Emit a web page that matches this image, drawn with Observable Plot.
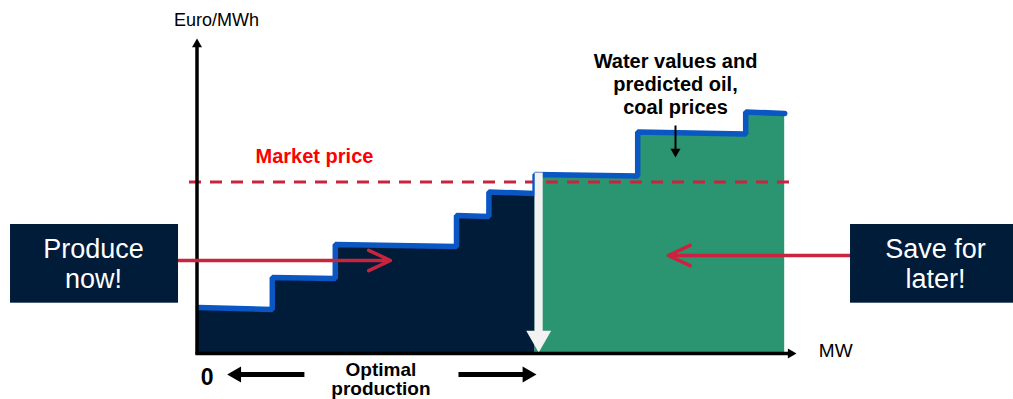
<!DOCTYPE html>
<html>
<head>
<meta charset="utf-8">
<script src="https://cdn.jsdelivr.net/npm/d3@7"></script>
<script src="https://cdn.jsdelivr.net/npm/@observablehq/plot@0.6"></script>
<style>
  html, body { margin: 0; padding: 0; background: #ffffff; }
  #chart { width: 1013px; height: 399px; overflow: hidden; }
</style>
</head>
<body>
<div id="chart"></div>
<script>
// ---------- data (MW on x, Euro/MWh on y; conceptual units) ----------
const stepStartMW    = [0, 12.3, 22.8, 43.0, 48.4, 56.1, 73.2, 91.2];
const stepEndMW      = [12.3, 22.8, 43.0, 48.4, 56.1, 73.2, 91.2, 97.7];
const stepPriceStart = [4.5, 7.5, 10.8, 13.7, 16.05, 17.8, 22.05, 24.05];
const stepPriceEnd   = [4.3, 7.4, 10.6, 13.6, 15.9, 17.65, 21.85, 23.9];
const stepGroup      = ["now", "now", "now", "now", "now", "later", "later", "later"];
const groups         = ["now", "later"];

const marketPrice = 17.05;
const marketSpan  = [-1.5, 99.2];
const optimalMW   = 56.7;      // white arrow: optimal production point
const optimalTop  = 18.0;

const axisEndMW    = 99.67;
const axisEndPrice = 31.4;

const labelTexts = ["Euro/MWh", "MW", "Market price", "Water values and\npredicted oil,\ncoal prices", "Optimal\nproduction", "0"];
const labelX     = [3.0, 106.2, 19.33, 79.5, 30.4, 1.42];
const labelY     = [33.25, 0.14, 19.6, 26.84, -2.74, -2.55];

const boxTexts = ["Produce\nnow!", "Save for\nlater!"];
const boxX1    = [-31.33, 108.67];
const boxX2    = [-3.33, 135.9];
const boxY1    = [4.93, 4.93];
const boxY2    = [12.8, 12.8];
const boxTextX = [-17.5, 122.83];
const boxTextY = [8.9, 8.95];

const redArrowFrom  = [[-3.33, 9.2], [108.67, 9.7]];
const redArrowTo    = [[32.0, 9.2], [78.3, 9.7]];

const optimalArrowFrom = [[17.65, -2.2], [43.33, -2.2]];
const optimalArrowTo   = [[4.78, -2.2], [56.33, -2.2]];

const noteArrowX = 79.5, noteArrowFrom = 22.7, noteArrowTo = 19.5;

// ---------- colours ----------
const NAVY = "#011c39", GREEN = "#2a9570", BLUE = "#0a56c2", CRIMSON = "#c8243e";
const FONT = "Liberation Sans, Arial, Helvetica, sans-serif";

// ---------- derived tables ----------
const steps = stepStartMW.map((x0, i) => ({x0, x1: stepEndMW[i], p0: stepPriceStart[i], p1: stepPriceEnd[i], g: stepGroup[i]}));
const curvePts = steps.flatMap((s) => [{x: s.x0, y: s.p0, g: s.g}, {x: s.x1, y: s.p1, g: s.g}]);

const W = 1013, H = 399;
const xDomain = [-33, 135.8333], yDomain = [-4.7, 35.2];
const KX = W / (xDomain[1] - xDomain[0]);
const KY = H / (yDomain[1] - yDomain[0]);

// filled-head arrow made of a link shaft and a rotated triangle symbol
function headArrow(rows, {color, width, side}) {
  const area = Math.sqrt(3) / 4 * side * side;
  const h = side * Math.sqrt(3) / 2;
  const r = Math.sqrt(area / Math.PI);
  const t = rows.map(([a, b]) => {
    const [x1, y1] = a, [x2, y2] = b;
    const dxp = (x2 - x1) * KX, dyp = -(y2 - y1) * KY;
    const len = Math.hypot(dxp, dyp), ux = dxp / len, uy = dyp / len;
    return {
      x1, y1,
      sx: x2 - ux * (h * 0.8) / KX, sy: y2 + uy * (h * 0.8) / KY,
      cx: x2 - ux * (2 / 3 * h) / KX, cy: y2 + uy * (2 / 3 * h) / KY,
      rot: Math.atan2(uy, ux) * 180 / Math.PI + 90
    };
  });
  return [
    Plot.link(t, {x1: "x1", y1: "y1", x2: "sx", y2: "sy", stroke: color, strokeWidth: width}),
    Plot.dot(t, {x: "cx", y: "cy", symbol: "triangle", r, fill: color, stroke: "none", rotate: "rot"})
  ];
}

const labels = labelTexts.map((text, i) => ({text, x: labelX[i], y: labelY[i]}));
const boxes = boxTexts.map((text, i) => ({text, x1: boxX1[i], x2: boxX2[i], y1: boxY1[i], y2: boxY2[i], tx: boxTextX[i], ty: boxTextY[i]}));
const redArrows = redArrowFrom.map((f, i) => ({x1: f[0], y1: f[1], x2: redArrowTo[i][0], y2: redArrowTo[i][1]}));

const chart = Plot.plot({
  width: W, height: H,
  marginTop: 0, marginRight: 0, marginBottom: 0, marginLeft: 0,
  x: {domain: xDomain, axis: null},
  y: {domain: yDomain, axis: null},
  color: {domain: groups, range: [NAVY, GREEN]},
  style: {background: "#ffffff", overflow: "visible", fontFamily: FONT},
  marks: [
    // supply curve fill (no stacking: explicit baseline)
    Plot.area(curvePts, {x1: "x", y1: 0, y2: "y", fill: "g", z: "g", curve: "linear"}),
    // market price
    Plot.ruleY([marketPrice], {x1: marketSpan[0], x2: marketSpan[1], stroke: CRIMSON, strokeWidth: 3, strokeDasharray: "12,9"}),
    // stepped blue curve
    Plot.line(curvePts, {x: "x", y: "y", stroke: BLUE, strokeWidth: 5.5, strokeLinejoin: "miter", curve: "linear"}),
    // optimal production arrow (white)
    ...headArrow([[[optimalMW, optimalTop], [optimalMW, 0]]], {color: "#f2f2f2", width: 8, side: 25}),
    // axes
    ...headArrow([[[-0.25, -0.2], [-0.25, axisEndPrice]]], {color: "#000000", width: 3.5, side: 10}),
    ...headArrow([[[-0.5, -0.1], [axisEndMW, -0.1]]], {color: "#000000", width: 3.5, side: 10}),
    // red arrows
    Plot.arrow(redArrows, {x1: "x1", y1: "y1", x2: "x2", y2: "y2", stroke: CRIMSON, strokeWidth: 3.5, headAngle: 50, headLength: 10.3}),
    // boxes
    Plot.rect(boxes, {x1: "x1", x2: "x2", y1: "y1", y2: "y2", fill: NAVY}),
    Plot.text(boxes, {x: "tx", y: "ty", text: "text", fill: "#ffffff", fontSize: 27, lineHeight: 1.11, fontFamily: FONT}),
    // optimal production arrows
    ...headArrow(optimalArrowFrom.map((f, i) => [f, optimalArrowTo[i]]), {color: "#000000", width: 5, side: 16}),
    // note arrow
    ...headArrow([[[noteArrowX, noteArrowFrom], [noteArrowX, noteArrowTo]]], {color: "#000000", width: 2, side: 10}),
    // labels
    Plot.text([labels[0]], {x: "x", y: "y", text: "text", fontSize: 18, fill: "#000000", fontFamily: FONT}),
    Plot.text([labels[1]], {x: "x", y: "y", text: "text", fontSize: 19, fill: "#000000", fontFamily: FONT}),
    Plot.text([labels[2]], {x: "x", y: "y", text: "text", fontSize: 20, fontWeight: "bold", fill: "#ff0000", fontFamily: FONT}),
    Plot.text([labels[3]], {x: "x", y: "y", text: "text", fontSize: 20, fontWeight: "bold", fill: "#000000", lineHeight: 1.15, fontFamily: FONT}),
    Plot.text([labels[4]], {x: "x", y: "y", text: "text", fontSize: 19, fontWeight: "bold", fill: "#000000", lineHeight: 1.0, fontFamily: FONT}),
    Plot.text([labels[5]], {x: "x", y: "y", text: "text", fontSize: 23, fontWeight: "bold", fill: "#000000", fontFamily: FONT})
  ]
});
document.getElementById("chart").appendChild(chart);
</script>
</body>
</html>
